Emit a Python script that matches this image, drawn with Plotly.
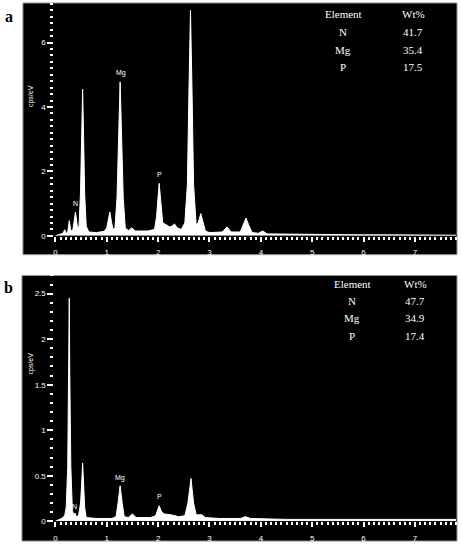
import plotly.graph_objects as go

# EDS spectrum a: energy (keV) and counts (cps/eV)
energy_a = [0.00, 0.10, 0.15, 0.18, 0.21, 0.24, 0.27, 0.30, 0.34, 0.39, 0.43, 0.46,
            0.49, 0.51, 0.53, 0.55, 0.57, 0.60, 0.65, 0.80, 0.95, 1.00, 1.03, 1.06,
            1.09, 1.12, 1.16, 1.20, 1.23, 1.26, 1.29, 1.32, 1.36, 1.42, 1.49, 1.55,
            1.80, 1.93, 1.97, 2.00, 2.02, 2.05, 2.09, 2.15, 2.22, 2.27, 2.32, 2.37,
            2.45, 2.52, 2.57, 2.60, 2.63, 2.66, 2.69, 2.74, 2.78, 2.83, 2.87, 2.92,
            3.00, 3.25, 3.34, 3.42, 3.60, 3.66, 3.71, 3.76, 3.83, 3.95, 4.04, 4.12,
            4.50, 5.00, 5.50, 6.00, 6.50, 7.00, 7.50, 7.80]
counts_a = [0.00, 0.05, 0.08, 0.19, 0.08, 0.12, 0.47, 0.15, 0.18, 0.74, 0.25, 0.30,
            1.40, 3.00, 4.55, 3.00, 1.30, 0.30, 0.12, 0.10, 0.14, 0.25, 0.50, 0.74,
            0.45, 0.20, 0.25, 1.20, 3.00, 4.78, 3.00, 1.20, 0.25, 0.16, 0.25, 0.15,
            0.15, 0.20, 0.60, 1.20, 1.63, 1.10, 0.40, 0.35, 0.28, 0.30, 0.37, 0.25,
            0.20, 0.40, 1.60, 4.50, 7.00, 4.50, 1.60, 0.35, 0.40, 0.69, 0.45, 0.15,
            0.10, 0.12, 0.28, 0.12, 0.12, 0.35, 0.55, 0.35, 0.10, 0.08, 0.15, 0.06,
            0.05, 0.04, 0.04, 0.03, 0.03, 0.03, 0.02, 0.02]

# EDS spectrum b
energy_b = [0.00, 0.12, 0.18, 0.21, 0.24, 0.26, 0.27, 0.28, 0.30, 0.33, 0.36, 0.38,
            0.41, 0.45, 0.49, 0.51, 0.53, 0.55, 0.57, 0.60, 0.80, 1.10, 1.18, 1.22,
            1.26, 1.30, 1.34, 1.42, 1.50, 1.57, 1.85, 1.95, 2.02, 2.07, 2.12, 2.25,
            2.40, 2.52, 2.58, 2.64, 2.69, 2.74, 2.85, 2.92, 3.20, 3.60, 3.70, 3.80,
            4.50, 5.50, 6.50, 7.80]
counts_b = [0.00, 0.03, 0.06, 0.15, 0.60, 1.60, 2.45, 1.60, 0.60, 0.12, 0.06, 0.09,
            0.05, 0.06, 0.20, 0.40, 0.64, 0.40, 0.15, 0.04, 0.03, 0.03, 0.05, 0.20,
            0.39, 0.20, 0.05, 0.04, 0.08, 0.04, 0.04, 0.06, 0.17, 0.10, 0.08, 0.07,
            0.05, 0.06, 0.20, 0.47, 0.20, 0.07, 0.07, 0.04, 0.03, 0.03, 0.05, 0.03,
            0.02, 0.02, 0.02, 0.02]

# peak labels: (text, energy, height)
peaks_a = [("N", 0.40, 1.0), ("Mg", 1.27, 5.05), ("P", 2.02, 1.9)]
peaks_b = [("N", 0.38, 0.16), ("Mg", 1.25, 0.48), ("P", 2.02, 0.27)]

elements = ["N", "Mg", "P"]
wt_a = ["41.7", "35.4", "17.5"]
wt_b = ["47.7", "34.9", "17.4"]

W, H = 462, 550


def px(x):
    return x / W


def py(y):
    return 1 - y / H


def label(text, x, y, font, xref="paper", yref="paper", **kw):
    return dict(text=text, xref=xref, yref=yref, x=x, y=y, showarrow=False,
                xanchor="center", yanchor="middle", font=font, **kw)


fig = go.Figure()
fig.add_trace(go.Scatter(x=energy_a, y=counts_a, mode="lines", fill="tozeroy",
                         line=dict(color="white", width=1), fillcolor="white",
                         xaxis="x", yaxis="y", showlegend=False, hoverinfo="skip"))
fig.add_trace(go.Scatter(x=energy_b, y=counts_b, mode="lines", fill="tozeroy",
                         line=dict(color="white", width=1), fillcolor="white",
                         xaxis="x2", yaxis="y2", showlegend=False, hoverinfo="skip"))

tick_font = dict(family="Liberation Sans, Arial", size=8, color="white")
xdom = [px(53.5), px(456)]


def xaxis(anchor):
    return dict(domain=xdom, range=[-0.02, 7.8], anchor=anchor, showgrid=False,
                zeroline=False, showline=False, ticks="outside", ticklen=5,
                tickwidth=1.5, tickcolor="white", dtick=1, tickfont=tick_font,
                ticklabelstandoff=4,
                minor=dict(dtick=0.1, ticks="outside", ticklen=3, tickwidth=1.5,
                           tickcolor="white"))


def yaxis(anchor, dom, rng, dtick, minor):
    return dict(domain=dom, range=rng, anchor=anchor, showgrid=False,
                zeroline=False, showline=False, ticks="outside", ticklen=6,
                tickwidth=1.5, tickcolor="white", dtick=dtick, tickfont=tick_font,
                minor=dict(dtick=minor, ticks="outside", ticklen=3, tickwidth=2,
                           tickcolor="white"))


shapes = [
    dict(type="rect", xref="paper", yref="paper", x0=px(22), x1=px(457),
         y0=py(257), y1=py(3), fillcolor="black", line=dict(color="#999", width=1),
         layer="below"),
    dict(type="rect", xref="paper", yref="paper", x0=px(21), x1=px(457),
         y0=py(546), y1=py(278), fillcolor="black", line=dict(color="#999", width=1),
         layer="below"),
]

panel_font = dict(family="Liberation Serif", size=16, color="black")
small_font = dict(family="Liberation Sans", size=7, color="white")
table_font = dict(family="Liberation Serif", size=11, color="white")

ann = []
for lab, y in [("a", 17), ("b", 290)]:
    ann.append(label(f"<b>{lab}</b>", px(8), py(y), panel_font))
for y in [97, 367]:
    ann.append(label("cps/eV", px(30), py(y), small_font, textangle=-90))
for peaks, xr, yr in [(peaks_a, "x", "y"), (peaks_b, "x2", "y2")]:
    for t, e, v in peaks:
        ann.append(label(t, e, v, small_font, xref=xr, yref=yr))

for wts, ex, wx, rows in [(wt_a, 343, 413, [14, 32, 50, 68]),
                          (wt_b, 352, 415, [287, 304, 321, 339])]:
    ann.append(label("Element", px(ex), py(rows[0]), table_font))
    ann.append(label("Wt%", px(wx), py(rows[0]), table_font))
    for el, w, r in zip(elements, wts, rows[1:]):
        ann.append(label(el, px(ex), py(r), table_font))
        ann.append(label(w, px(wx), py(r), table_font))

fig.update_layout(
    width=W, height=H, margin=dict(l=0, r=0, t=0, b=0),
    paper_bgcolor="white", plot_bgcolor="black",
    xaxis=xaxis("y"),
    yaxis=yaxis("x", [py(238), py(3)], [0, 7.23], 2, 0.2),
    xaxis2=xaxis("y2"),
    yaxis2=yaxis("x2", [py(526), py(278)], [0, 2.7], 0.5, 0.1),
    shapes=shapes, annotations=ann,
)

# the page body has a default 8px margin; drop it so the figure sits at 0,0
fig.write_html("out.html", config={"displayModeBar": False},
               post_script="document.body.style.margin='0';")
